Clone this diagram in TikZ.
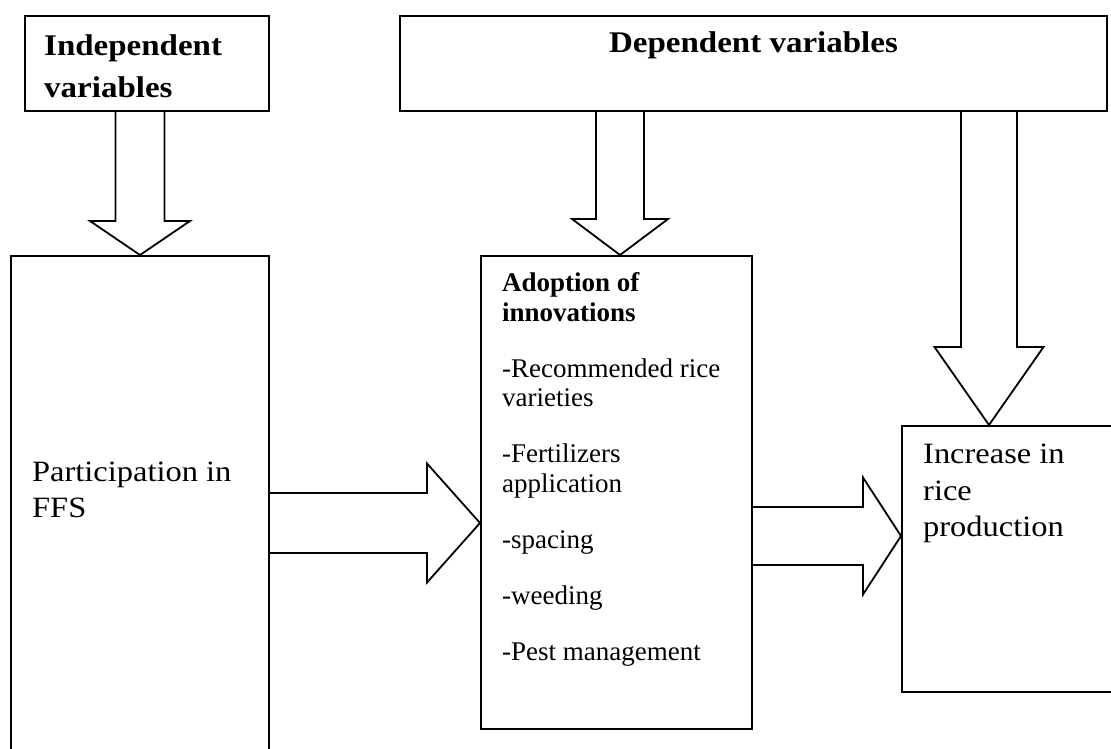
\documentclass[tikz,border=0pt]{standalone}
\usepackage{fontspec}
\setmainfont{Liberation Serif}[FakeStretch=1.1]
\newfontfamily\listfont{Liberation Serif}
\usepackage{tikz}
\usetikzlibrary{calc,positioning}

% open block arrows, tail -> tip, half shaft, half head, head length
\newcommand{\fatdown}[5]{%
  \draw[blockarr] ($(#1)+(-#3,0)$) -- ($(#2)+(-#3,-#5)$) -- ($(#2)+(-#4,-#5)$) -- (#2)
    -- ($(#2)+(#4,-#5)$) -- ($(#2)+(#3,-#5)$) -- ($(#1)+(#3,0)$);}
\newcommand{\fatright}[5]{%
  \draw[blockarr] ($(#1)+(0,-#3)$) -- ($(#2)+(-#5,-#3)$) -- ($(#2)+(-#5,-#4)$) -- (#2)
    -- ($(#2)+(-#5,#4)$) -- ($(#2)+(-#5,#3)$) -- ($(#1)+(0,#3)$);}

\begin{document}
\begin{tikzpicture}[x=1pt,y=-1pt,
  box/.style={draw,line width=2pt,rectangle,inner sep=0pt,anchor=north west},
  blockarr/.style={draw,line width=1.8pt,line join=miter},
  txt/.style={inner sep=0pt,anchor=north west,align=left}]
\useasboundingbox (0,0) rectangle (1111,749);

% boxes
\node[box,minimum width=244,minimum height=95] (indep) at (24,15) {};
\node[box,minimum width=707,minimum height=95] (dep) at (399,15) {};
\node[box,minimum width=258,minimum height=520] (part) at (10,255) {};
\node[box,minimum width=271,minimum height=473] (adopt) at (480,255) {};
\node[box,minimum width=240,minimum height=266] (incr) at (901,425) {};

% texts
\node[txt,font=\fontsize{30}{42}\selectfont\bfseries] (indeptext) at (44,34.5) {Independent\\variables};
\node[inner sep=0pt,anchor=base,font=\fontsize{30}{36}\selectfont\bfseries] (deptext) at ([yshift=-38pt]dep.north) {Dependent variables};
\node[txt,font=\fontsize{29.5}{36}\selectfont] (parttext) at (32,462) {Participation in\\FFS};
\node[txt,font=\fontsize{29.5}{36.5}\selectfont] (incrtext) at (923,444) {Increase in\\rice\\production};
\node[txt,font=\listfont\fontsize{27}{29.5}\selectfont] (adopttext) at (502,272.5)
  {\textbf{Adoption of}\\\textbf{innovations}\\[26.5pt]
   -Recommended rice\\varieties\\[26.5pt]
   -Fertilizers\\application\\[26.5pt]
   -spacing\\[26.5pt]
   -weeding\\[26.5pt]
   -Pest management};

% arrow ends
\coordinate (tipA) at ([xshift=3.5pt]adopt.north);
\coordinate (tipI) at ([xshift=88pt]incr.north west);
\coordinate (tipP) at ([yshift=-30.5pt]adopt.west);
\coordinate (tipR) at ([yshift=23pt]incr.west);

% arrows
\fatdown{part.north |- indep.south}{part.north}{24.5}{50}{34}
\fatdown{tipA |- dep.south}{tipA}{24}{48}{36}
\fatdown{tipI |- dep.south}{tipI}{28}{54.5}{78}
\fatright{part.east |- tipP}{tipP}{30}{59.5}{53}
\fatright{adopt.east |- tipR}{tipR}{29}{58.5}{38}
\end{tikzpicture}
\end{document}
